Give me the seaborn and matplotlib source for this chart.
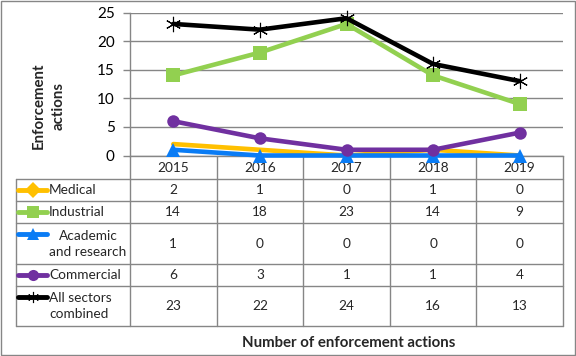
import numpy as np
import pandas as pd
import matplotlib
matplotlib.use("Agg")
import matplotlib.pyplot as plt
import seaborn as sns

# data
years = ["2015", "2016", "2017", "2018", "2019"]
medical = [2, 1, 0, 1, 0]
industrial = [14, 18, 23, 14, 9]
academic = [1, 0, 0, 0, 0]
commercial = [6, 3, 1, 1, 4]
all_sectors = [23, 22, 24, 16, 13]

series_names = ["Medical", "Industrial", "Academic\nand research", "Commercial", "All sectors\ncombined"]
series_values = [medical, industrial, academic, commercial, all_sectors]
colors = ["#FFC000", "#92D050", "#0A7CF5", "#7030A0", "#000000"]
markers = [None, "s", "^", "o", (6, 2, 0)]
legend_markers = ["D", "s", "^", "o", (6, 2, 0)]
msizes = [0, 9.5, 10.5, 9, 11]

sns.set_style("white")
plt.rcParams["font.family"] = ["Lato", "DejaVu Sans"]

GRID = "#868686"
W, H = 576, 356
fig = plt.figure(figsize=(W / 100, H / 100), dpi=100)

# plot area in pixel coordinates
px_left, px_right, px_top, px_bottom = 130, 563, 12.5, 155.5
ax = fig.add_axes([px_left / W, 1 - px_bottom / H,
                   (px_right - px_left) / W, (px_bottom - px_top) / H])
ax.set_facecolor("none")
ax.patch.set_alpha(0)

rows = []
for name, vals in zip(series_names, series_values):
    for i, v in enumerate(vals):
        rows.append({"series": name, "pos": i, "value": v})
df = pd.DataFrame(rows)

for name, col, mk, ms in zip(series_names, colors, markers, msizes):
    sub = df[df["series"] == name]
    sns.lineplot(data=sub, x="pos", y="value", ax=ax, color=col, linewidth=3.3,
                 marker=mk if mk is not None else "", markersize=ms,
                 markeredgecolor=col, markeredgewidth=0.8 if mk == (6, 2, 0) else 0,
                 clip_on=False, zorder=3)

ax.set_xlim(-0.5, len(years) - 0.5)
ax.set_ylim(0, 25)
ax.set_yticks([0, 5, 10, 15, 20, 25])
ax.set_xticks([])
ax.set_xlabel("")
ax.set_ylabel("")
ax.yaxis.grid(True, color=GRID, linewidth=1)
ax.set_axisbelow(True)
for s in ["top", "right"]:
    ax.spines[s].set_visible(False)
for s in ["left", "bottom"]:
    ax.spines[s].set_color(GRID)
    ax.spines[s].set_linewidth(1)
ax.tick_params(axis="y", length=5, width=1, color=GRID, labelsize=11,
               labelcolor="#000000", pad=6, left=True)
if ax.legend_:
    ax.legend_.remove()

# overlay in pixel coordinates for the data table and titles
ov = fig.add_axes([0, 0, 1, 1], zorder=-1)
ov.set_xlim(0, W)
ov.set_ylim(H, 0)
ov.axis("off")

# outer frame
ov.add_patch(plt.Rectangle((0.5, 0.5), W - 1.5, H - 1.5, fill=False,
                           edgecolor=GRID, linewidth=1))

row_edges = [155.5, 179, 201, 223, 264, 286, 326]
col_w = (px_right - px_left) / len(years)
col_edges = [px_left + i * col_w for i in range(len(years) + 1)]
tab_left = 16

for y in row_edges[1:]:
    ov.plot([tab_left, px_right], [y, y], color=GRID, lw=1)
ov.plot([tab_left, tab_left], [row_edges[1], row_edges[-1]], color=GRID, lw=1)
for x in col_edges:
    ov.plot([x, x], [row_edges[0], row_edges[-1]], color=GRID, lw=1)

# header years
for i, yr in enumerate(years):
    ov.text(col_edges[i] + col_w / 2, (row_edges[0] + row_edges[1]) / 2 + 1, yr,
            ha="center", va="center", fontsize=9.8)

# rows
for r, (name, vals, col, mk) in enumerate(zip(series_names, series_values, colors, legend_markers)):
    yc = (row_edges[r + 1] + row_edges[r + 2]) / 2
    ky = row_edges[r + 1] + 11 if "\n" in name else yc
    ov.plot([18, 47], [ky, ky], color=col, lw=3.5, solid_capstyle="round")
    ov.plot([32.5], [ky], marker=mk, color=col, markersize=8,
            markeredgecolor=col, markeredgewidth=0.8 if mk == (6, 2, 0) else 0)
    if name.startswith("Academic"):
        ov.text(88, yc, name, ha="center", va="center", fontsize=9.8,
                multialignment="center", linespacing=1.4)
    else:
        ov.text(49, yc, name, ha="left", va="center", fontsize=9.8,
                linespacing=1.4)
    for i, v in enumerate(vals):
        ov.text(col_edges[i] + col_w / 2, yc, str(v), ha="center", va="center",
                fontsize=9.8)

ov.text(349, 343, "Number of enforcement actions", ha="center", va="center",
        fontsize=10.8, fontweight="bold")
ov.text(49, 106, "Enforcement\nactions", ha="center", va="center", rotation=90,
        fontsize=10.8, fontweight="bold", multialignment="center", linespacing=1.5)

fig.savefig("out.png", dpi=100)
